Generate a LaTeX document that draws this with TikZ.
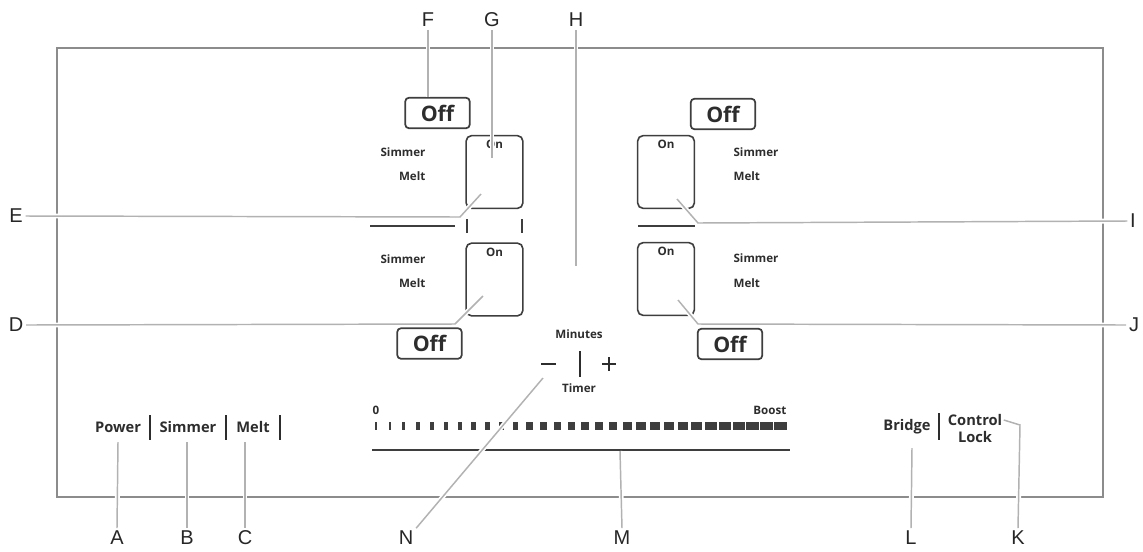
\documentclass[tikz,border=0pt]{standalone}
\usepackage{fontspec}
\usepackage{tikz}
\usetikzlibrary{positioning,calc}
\newfontfamily\panelfont{Open Sans}
\newfontfamily\letterfont{Liberation Sans}
\definecolor{framegray}{RGB}{140,140,140}
\definecolor{leadgray}{RGB}{178,178,178}
\definecolor{boxgray}{RGB}{62,62,62}
\definecolor{textgray}{RGB}{45,45,45}

\begin{document}
\begin{tikzpicture}[
    x=0.75pt, y=-0.75pt,
    offbox/.style={rectangle, draw=boxgray, line width=1.3pt, rounded corners=3pt, minimum width=48.5pt, minimum height=23pt, inner sep=0pt, text=textgray, font=\panelfont\bfseries\fontsize{16}{16}\selectfont},
    onbox/.style={rectangle, draw=boxgray, line width=1.2pt, rounded corners=4pt, minimum width=42.5pt, minimum height=54.5pt, inner sep=0pt},
    small/.style={font=\panelfont\bfseries\fontsize{8.7}{9}\selectfont, text=textgray, inner sep=1pt},
    btnlabel/.style={font=\panelfont\bfseries\fontsize{11}{12}\selectfont, text=textgray, inner sep=1pt},
    letter/.style={font=\letterfont\fontsize{15}{15}\selectfont, text=black!85, inner sep=2pt},
    sepbar/.style={draw=textgray, line width=1.4pt},
    darkline/.style={draw=boxgray, line width=1.4pt},
    leader/.style={draw=leadgray, line width=1.1pt, preaction={draw=white, line width=3.6pt}}
  ]
    \useasboundingbox (0,0) rectangle (1143,551);

    % Panel frame
    \draw[framegray, line width=2.2pt] (57,48) rectangle (1103,497);

    % Left zones
    \node[offbox] (offTL) at (437.5,113) {Off};
    \node[onbox] (onTL) at (494.5,172) {};
    \node[small, below=3pt of onTL.north] (onTLtxt) {On};
    \node[small, anchor=east] (simTL) at (427,152) {Simmer};
    \node[small, anchor=east] (meltTL) at (427,176) {Melt};

    \node[onbox] (onBL) at (494.5,279.5) {};
    \node[small, below=3pt of onBL.north] (onBLtxt) {On};
    \node[small, anchor=east] (simBL) at (427,259) {Simmer};
    \node[small, anchor=east] (meltBL) at (427,283) {Melt};
    \node[offbox] (offBL) at (429.5,343.5) {Off};

    \draw[darkline] (370,226) -- (455,226);
    \draw[darkline] (467,219) -- (467,233);
    \draw[darkline] (522,219) -- (522,233);

    % Right zones
    \node[offbox] (offTR) at (723,114) {Off};
    \node[onbox] (onTR) at (666,172) {};
    \node[small, below=3pt of onTR.north] (onTRtxt) {On};
    \node[small, anchor=west] (simTR) at (732,152) {Simmer};
    \node[small, anchor=west] (meltTR) at (732,176) {Melt};
    \draw[darkline, line width=1.8pt] (638,226) -- (695,226);

    \node[onbox] (onBR) at (666,279) {};
    \node[small, below=3pt of onBR.north] (onBRtxt) {On};
    \node[small, anchor=west] (simBR) at (732,258) {Simmer};
    \node[small, anchor=west] (meltBR) at (732,283) {Melt};
    \node[offbox] (offBR) at (730,344) {Off};

    % Timer
    \node[small] (minutes) at (579,334) {Minutes};
    \node[small] (timer) at (579,388) {Timer};
    \draw[sepbar, line width=1.6pt] (541,364) -- (556,364);
    \draw[sepbar] (580,351) -- (580,377);
    \draw[sepbar] (602,364) -- (616,364) (609,357) -- (609,371);

    % Power level bar
    \node[small, anchor=west] (zero) at (371,410) {0};
    \node[small, anchor=east] (boost) at (788,410) {Boost};
    \foreach \i in {0,...,29}{
      \pgfmathsetmacro\bx{376+13.95*\i}
      \pgfmathsetmacro\bw{2.6+11*(\i/29)^1.15}
      \fill[boxgray] (\bx-\bw/2,421.5) rectangle (\bx+\bw/2,430);
    }
    \draw[darkline, line width=1.6pt] (372,450) -- (790,450);

    % Bottom keys
    \node[btnlabel] (power) at (118,427) {Power};
    \node[btnlabel] (simmer) at (188,427) {Simmer};
    \node[btnlabel] (melt) at (253,427) {Melt};
    \draw[sepbar] (150,415) -- (150,440);
    \draw[sepbar] (226,415) -- (226,440);
    \draw[sepbar] (280,415) -- (280,440);
    \node[btnlabel] (bridge) at (907,427) {Bridge};
    \draw[sepbar] (939,413) -- (939,440);
    \node[btnlabel] (control) at (975,420) {Control};
    \node[btnlabel] (lock) at (975,437) {Lock};

    % Callout letters
    \node[letter] (F) at (428,20) {F};
    \node[letter] (G) at (492,20) {G};
    \node[letter] (H) at (576,20) {H};
    \node[letter] (E) at (16,216) {E};
    \node[letter] (D) at (16,325) {D};
    \node[letter] (I) at (1133,221) {I};
    \node[letter] (J) at (1134,325) {J};
    \node[letter] (A) at (117,538) {A};
    \node[letter] (B) at (187,538) {B};
    \node[letter] (C) at (245,538) {C};
    \node[letter] (N) at (406,538) {N};
    \node[letter] (M) at (622,538) {M};
    \node[letter] (L) at (911,538) {L};
    \node[letter] (K) at (1018,538) {K};

    % Leader ends
    \coordinate (Gend) at (492,158);
    \coordinate (Hend) at (576,266);
    \coordinate (Ebend) at (460,217);
    \coordinate (Eend) at (481,194);
    \coordinate (Dbend) at (455,324);
    \coordinate (Dend) at (483,296);
    \coordinate (Ibend) at (698,223);
    \coordinate (Iend) at (677,199);
    \coordinate (Jbend) at (698,324);
    \coordinate (Jend) at (678,300);
    \coordinate (Aend) at (118,442);
    \coordinate (Bend) at (187,442);
    \coordinate (Cend) at (245,442);
    \coordinate (Nend) at (543,378);
    \coordinate (Mend) at (620,451);
    \coordinate (Lend) at (912,448);
    \coordinate (Kbend) at (1020,425);

    % Leaders
    \draw[leader] (F.south) -- (F.south |- offTL.north);
    \draw[leader] (G.south) -- (Gend);
    \draw[leader] (H.south) -- (Hend);
    \draw[leader] (E.east) -- (Ebend) -- (Eend);
    \draw[leader] (D.east) -- (Dbend) -- (Dend);
    \draw[leader] (I.west) -- (Ibend) -- (Iend);
    \draw[leader] (J.west) -- (Jbend) -- (Jend);
    \draw[leader] (A.north) -- (Aend);
    \draw[leader] (B.north) -- (Bend);
    \draw[leader] (C.north) -- (Cend);
    \draw[leader] (N.north east) -- (Nend);
    \draw[leader] (M.north) -- (Mend);
    \draw[leader] (L.north) -- (Lend);
    \draw[leader] (K.north) -- (Kbend) -- (control.east);
\end{tikzpicture}
\end{document}
